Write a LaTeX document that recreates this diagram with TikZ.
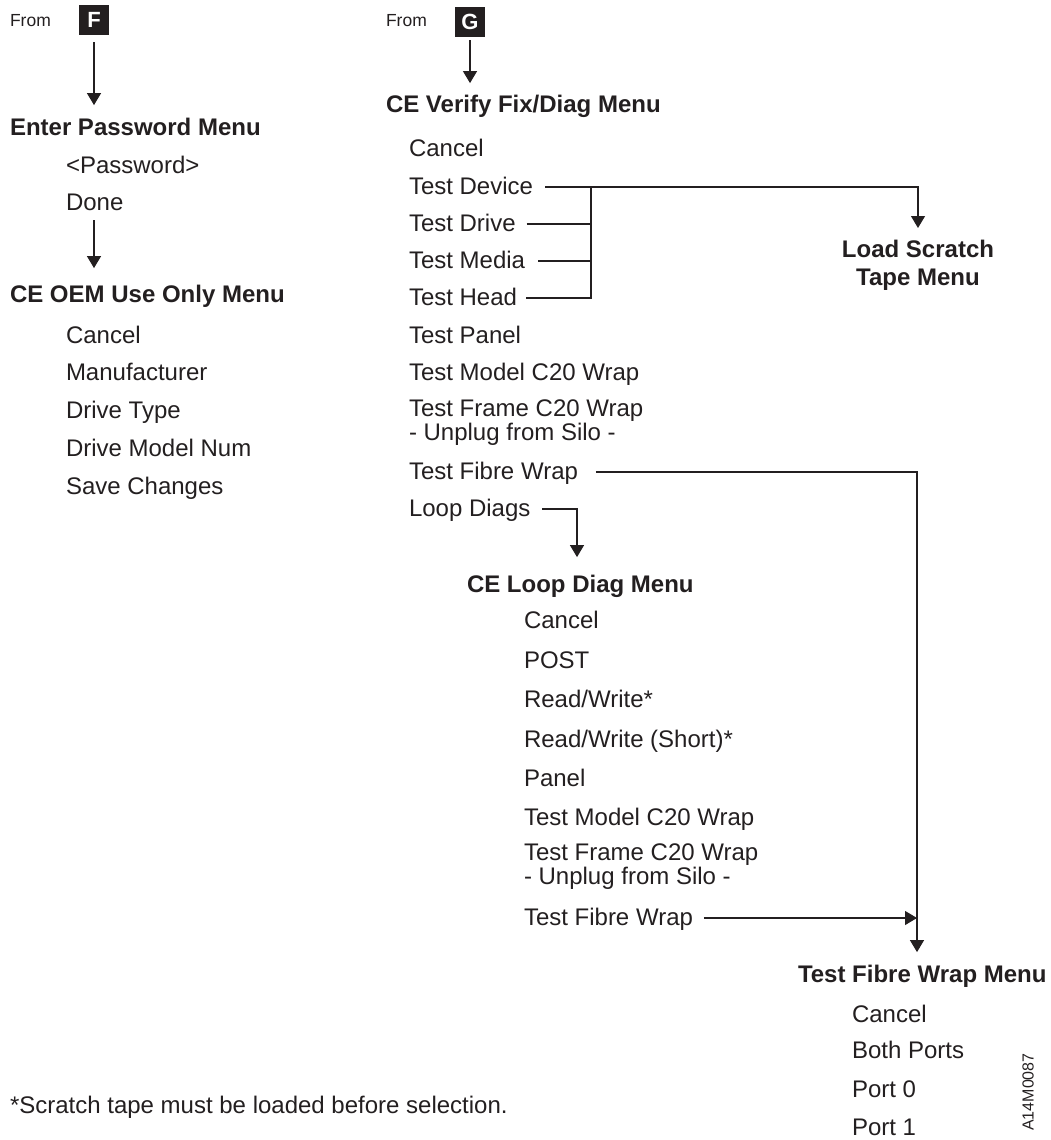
\documentclass[tikz,border=0pt]{standalone}
\usepackage{fontspec}
\setmainfont{Liberation Sans}
\usetikzlibrary{arrows.meta,calc}
\definecolor{ink}{HTML}{231F20}
\begin{document}
\begin{tikzpicture}[x=1pt,y=-1pt,
  txt/.style={anchor=base west, inner sep=0pt, outer sep=0pt, text=ink, font=\fontsize{24}{28}\selectfont},
  hdr/.style={txt, font=\fontsize{24}{28}\selectfont\bfseries},
  small/.style={txt, font=\fontsize{17.5}{20}\selectfont},
  lbox/.style={fill=ink, minimum size=30pt, inner sep=0pt, text=white, font=\fontsize{22}{22}\selectfont\bfseries},
  conn/.style={draw=ink, line width=1.1pt},
  arr/.style={conn, -{Triangle[width=14pt,length=12pt]}}]
\useasboundingbox (0,0) rectangle (1050,1140);

% ---- left column ----
\node[small] (from1) at (10,27) {From};
\node[lbox] (fbox) at (94,20) {F};
\node[hdr] (epm) at (10,135) {Enter Password Menu};
\node[txt] (pwd) at (66,173) {<Password>};
\node[txt] (done) at (66,210) {Done};
\node[hdr] (oem) at (10,302) {CE OEM Use Only Menu};
\node[txt] (ocancel) at (66,343) {Cancel};
\node[txt] (omanu) at (66,380) {Manufacturer};
\node[txt] (otype) at (66,418) {Drive Type};
\node[txt] (omodel) at (66,456) {Drive Model Num};
\node[txt] (osave) at (66,494) {Save Changes};

% ---- middle column ----
\node[small] (from2) at (386,27) {From};
\node[lbox] (gbox) at (470,22) {G};
\node[hdr] (cev) at (386,112) {CE Verify Fix/Diag Menu};
\node[txt] (vcancel) at (409,156) {Cancel};
\node[txt] (tdev) at (409,194) {Test Device};
\node[txt] (tdrive) at (409,231) {Test Drive};
\node[txt] (tmedia) at (409,268) {Test Media};
\node[txt] (thead) at (409,305) {Test Head};
\node[txt] (tpanel) at (409,343) {Test Panel};
\node[txt] (tmodel) at (409,380) {Test Model C20 Wrap};
\node[txt] (tframe) at (409,416) {Test Frame C20 Wrap};
\node[txt] (tframeb) at (409,440) {- Unplug from Silo -};
\node[txt] (tfibre) at (409,479) {Test Fibre Wrap};
\node[txt] (loopd) at (409,516) {Loop Diags};

% ---- load scratch ----
\node[hdr, anchor=north, align=center] (lsm) at (918,240) {Load Scratch\\Tape Menu};

% ---- loop diag menu ----
\node[hdr] (cldm) at (467,592) {CE Loop Diag Menu};
\node[txt] (lcancel) at (524,628) {Cancel};
\node[txt] (lpost) at (524,668) {POST};
\node[txt] (lrw) at (524,707) {Read/Write*};
\node[txt] (lrws) at (524,747) {Read/Write (Short)*};
\node[txt] (lpanel) at (524,786) {Panel};
\node[txt] (lmodel) at (524,825) {Test Model C20 Wrap};
\node[txt] (lframe) at (524,860) {Test Frame C20 Wrap};
\node[txt] (lframeb) at (524,884) {- Unplug from Silo -};
\node[txt] (lfibre) at (524,925) {Test Fibre Wrap};

% ---- fibre wrap menu ----
\node[hdr] (tfwm) at (798,982) {Test Fibre Wrap Menu};
\node[txt] (fcancel) at (852,1022) {Cancel};
\node[txt] (fboth) at (852,1058) {Both Ports};
\node[txt] (fp0) at (852,1097) {Port 0};
\node[txt] (fp1) at (852,1135) {Port 1};

\node[rotate=90, inner sep=0pt, text=ink, font=\fontsize{16}{16}\selectfont] (code) at (1028,1092) {A14M0087};
\node[txt] (note) at (10,1113) {*Scratch tape must be loaded before selection.};

% ---- connectors ----
\coordinate (coll) at (591,187);
\coordinate (fcol) at (917,0);
\coordinate (lcol) at (577,0);

\draw[arr, shorten <=7pt, shorten >=12.5pt] (fbox.south) -- (fbox.south |- epm.north);
\draw[arr, shorten <=10pt, shorten >=16.5pt] (fbox |- done.south) -- (fbox |- oem.north);
\draw[arr, shorten <=3pt, shorten >=11.5pt] (gbox.south) -- (gbox.south |- cev.north);

\draw[arr, shorten >=12pt] ($(tdev.base east)+(12,-7)$) -| (lsm.north);
\draw[conn] ($(tdrive.base east)+(11,-7)$) -- ($(coll |- tdrive.base)+(0,-7)$);
\draw[conn] ($(tmedia.base east)+(13,-7)$) -- ($(coll |- tmedia.base)+(0,-7)$);
\draw[conn] ($(thead.base east)+(9,-7)$) -- ($(coll |- thead.base)+(0,-7)$) -- (coll);

\draw[arr, shorten >=12.5pt] ($(tfibre.base east)+(18,-7)$) -- ($(fcol |- tfibre.base)+(0,-7)$) -- (fcol |- tfwm.north);
\draw[arr] ($(lfibre.base east)+(11,-7)$) -- ($(fcol |- lfibre.base)+(0,-7)$);
\draw[arr, shorten >=17.5pt] ($(loopd.base east)+(12,-7)$) -- ($(lcol |- loopd.base)+(0,-7)$) -- (lcol |- cldm.north);
\end{tikzpicture}
\end{document}
